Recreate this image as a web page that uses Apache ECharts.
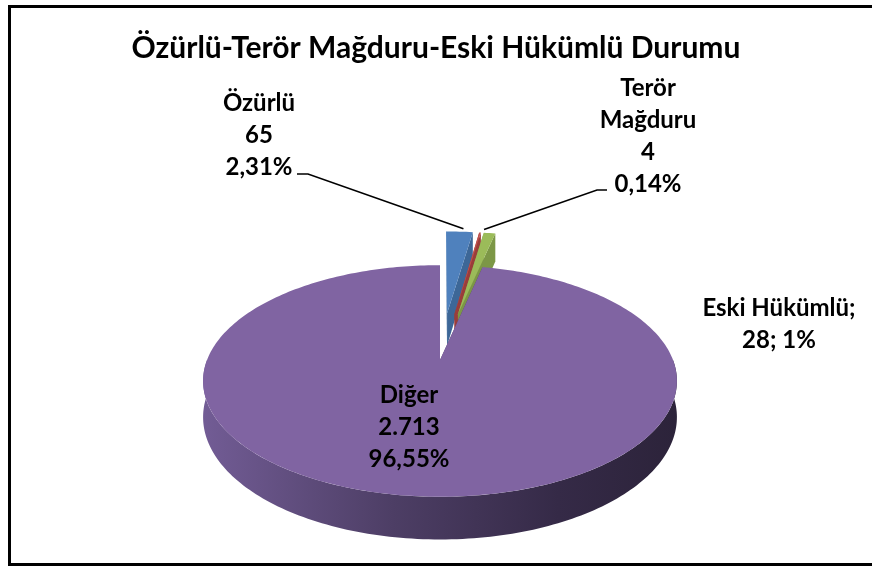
<!DOCTYPE html>
<html>
<head>
<meta charset="utf-8">
<style>
  html, body { margin: 0; padding: 0; background: #fff; }
  #chart { width: 872px; height: 567px; }
</style>
<script src="https://cdn.jsdelivr.net/npm/echarts@6/dist/echarts.min.js"></script>
</head>
<body>
<div id="chart"></div>
<script>
// veriler
const titleText = 'Özürlü-Terör Mağduru-Eski Hükümlü Durumu';
const categories = ['Özürlü', 'Terör Mağduru', 'Eski Hükümlü', 'Diğer'];
const counts = [65, 4, 28, 2713];

const colors = {
  blue: '#4F81BD',
  red: '#C0504D',
  green: '#9BBB59',
  purple: '#8064A2',
  blueDark: '#3d6797',
  redDark: '#9a3d3a',
  greenDark: '#7c9746',
  purpleDark: '#4e3d66',
};
const topColors = [colors.blue, colors.red, colors.green, colors.purple];
const wallColors = [colors.blueDark, colors.redDark, colors.greenDark, colors.purpleDark];

// 3D pie projection (perspective from above)
const CX = 440, CY = 360, R = 233, S = 112, K = 0.181, H = 35;
const explode = [0.45, 0.45, 0.45, 0];

// label placement (style only)
const labelPos = [
  { x: 259, y: 135, wrap: false, dec: 2, compact: false, leader: [[297, 174], [308, 174]] },
  { x: 648, y: 136, wrap: true, dec: 2, compact: false, leader: [[607, 190], [597, 190]] },
  { x: 779, y: 324, wrap: false, dec: 0, compact: true, leader: null },
  { x: 409, y: 427, wrap: false, dec: 2, compact: false, leader: null },
];

const total = counts.reduce((a, b) => a + b, 0);

function fmtCount(v) {
  return String(v).replace(/\B(?=(\d{3})+(?!\d))/g, '.');
}
function fmtPct(v, dec) {
  return (v / total * 100).toFixed(dec).replace('.', ',') + '%';
}

function project(ux, uy, h) {
  const w = 1 - K * uy;
  return [CX + R * ux / w, CY + (S * uy + h) / w];
}

function arcPoints(ex, ey, a0, a1, h) {
  const pts = [];
  const n = Math.max(2, Math.ceil((a1 - a0) / 0.02));
  for (let k = 0; k <= n; k++) {
    const t = a0 + (a1 - a0) * k / n;
    pts.push(project(ex + Math.sin(t), ey - Math.cos(t), h));
  }
  return pts;
}

function renderItem(params, api) {
  const i = params.dataIndex;
  let start = 0;
  for (let j = 0; j < i; j++) start += counts[j];
  const value = api.value(0);
  const a0 = start / total * Math.PI * 2;
  const a1 = (start + value) / total * Math.PI * 2;
  const am = (a0 + a1) / 2;
  const ex = explode[i] * Math.sin(am);
  const ey = -explode[i] * Math.cos(am);

  const children = [];
  const apexTop = project(ex, ey, 0);
  const apexBot = project(ex, ey, H);

  let wallFill = wallColors[i];
  if (i === 3) {
    wallFill = new echarts.graphic.LinearGradient(0, 0, 1, 0, [
      { offset: 0, color: '#725c95' },
      { offset: 0.4, color: '#4d3e65' },
      { offset: 0.75, color: '#352a47' },
      { offset: 1, color: '#2c233a' },
    ]);
  }

  // radial cut faces
  [a0, a1].forEach((a) => {
    const eTop = project(ex + Math.sin(a), ey - Math.cos(a), 0);
    const eBot = project(ex + Math.sin(a), ey - Math.cos(a), H);
    children.push({
      type: 'polygon',
      shape: { points: [apexTop, eTop, eBot, apexBot] },
      style: { fill: wallColors[i] },
    });
  });

  // outer wall, front part only
  const w0 = Math.max(a0, Math.PI / 2);
  const w1 = Math.min(a1, Math.PI * 1.5);
  if (w1 > w0) {
    const topArc = arcPoints(ex, ey, w0, w1, 0);
    const botArc = arcPoints(ex, ey, w0, w1, H).reverse();
    children.push({
      type: 'polygon',
      shape: { points: topArc.concat(botArc) },
      style: { fill: wallFill },
    });
  }

  // top face
  children.push({
    type: 'polygon',
    shape: { points: [apexTop].concat(arcPoints(ex, ey, a0, a1, 0)) },
    style: { fill: topColors[i] },
  });

  // label
  const lp = labelPos[i];
  const name = lp.wrap ? categories[i].replace(' ', '\n') : categories[i];
  const text = lp.compact
    ? name + ';\n' + fmtCount(value) + '; ' + fmtPct(value, lp.dec)
    : name + '\n' + fmtCount(value) + '\n' + fmtPct(value, lp.dec);
  children.push({
    type: 'text',
    z2: 10,
    style: {
      text: text,
      x: lp.x,
      y: lp.y,
      align: 'center',
      verticalAlign: 'middle',
      font: 'bold 24px Lato',
      lineHeight: 32,
      fill: '#000',
    },
  });

  if (lp.leader) {
    const tip = project(ex + Math.sin(am), ey - Math.cos(am), 0);
    children.push({
      type: 'polyline',
      z2: 10,
      shape: { points: lp.leader.concat([[tip[0] + 4, tip[1] - 3]]) },
      style: { stroke: '#000', lineWidth: 1.6, fill: null },
    });
  }

  return { type: 'group', children: children };
}

const myChart = echarts.init(document.getElementById('chart'));
const option = {
  animation: false,
  backgroundColor: '#fff',
  title: {
    text: titleText,
    left: 'center',
    top: 28,
    textStyle: {
      fontFamily: 'Lato',
      fontWeight: 'bold',
      fontSize: 30,
      color: '#000',
    },
  },
  graphic: [
    {
      type: 'rect',
      shape: { x: 9.5, y: 6.5, width: 880, height: 558 },
      style: { fill: null, stroke: '#000', lineWidth: 3 },
      silent: true,
    },
  ],
  series: [
    {
      type: 'custom',
      coordinateSystem: 'none',
      renderItem: renderItem,
      data: counts,
    },
  ],
};
myChart.setOption(option);
</script>
</body>
</html>
